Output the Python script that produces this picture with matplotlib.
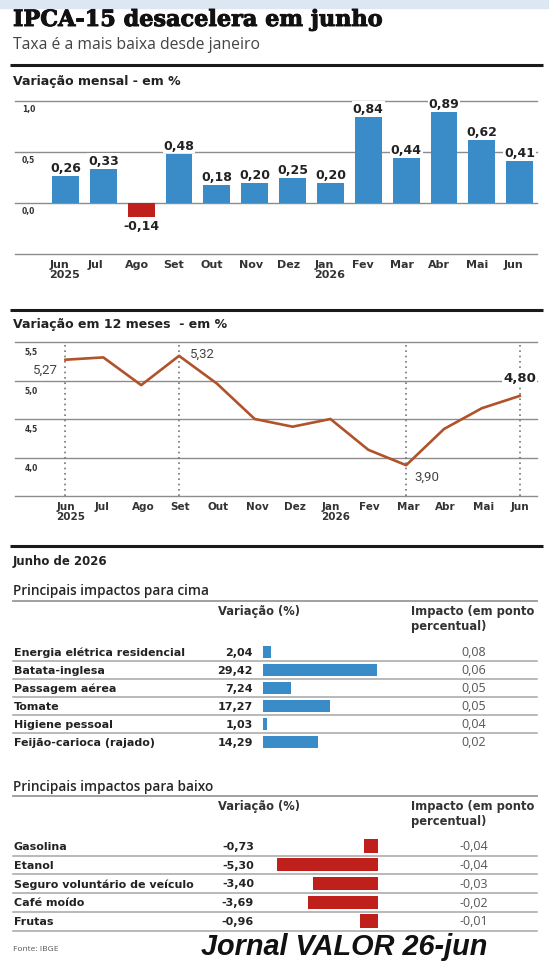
import numpy as np
import matplotlib.pyplot as plt
import matplotlib.transforms as mtransforms
import matplotlib.patheffects as pe

# dados
meses = ['Jun', 'Jul', 'Ago', 'Set', 'Out', 'Nov', 'Dez', 'Jan', 'Fev', 'Mar', 'Abr', 'Mai', 'Jun']
anos = ['2025', '', '', '', '', '', '', '2026', '', '', '', '', '']
var_mensal = [0.26, 0.33, -0.14, 0.48, 0.18, 0.20, 0.25, 0.20, 0.84, 0.44, 0.89, 0.62, 0.41]
var_12m = [5.27, 5.30, 4.94, 5.32, 4.96, 4.50, 4.40, 4.50, 4.10, 3.90, 4.37, 4.64, 4.80]
ticks_mensal = [1.0, 0.5, 0.0]
ticks_12m = [5.5, 5.0, 4.5, 4.0]

cima_itens = ['Energia elétrica residencial', 'Batata-inglesa', 'Passagem aérea', 'Tomate',
              'Higiene pessoal', 'Feijão-carioca (rajado)']
cima_var = [2.04, 29.42, 7.24, 17.27, 1.03, 14.29]
cima_imp = [0.08, 0.06, 0.05, 0.05, 0.04, 0.02]

baixo_itens = ['Gasolina', 'Etanol', 'Seguro voluntário de veículo', 'Café moído', 'Frutas']
baixo_var = [-0.73, -5.30, -3.40, -3.69, -0.96]
baixo_imp = [-0.04, -0.04, -0.03, -0.02, -0.01]

AZUL = '#3a8cc9'
VERMELHO = '#c0201c'
CINZA = '#8c8c8c'
ESCURO = '#222222'


def fmt(v, casas=2):
    return f'{v:.{casas}f}'.replace('.', ',')


W, H = 549, 962
fig = plt.figure(figsize=(W / 100, H / 100), dpi=100)
fig.patch.set_facecolor('white')


def px_axes(x0, y0, x1, y1):
    # eixo posicionado em pixels (origem no canto superior esquerdo)
    return fig.add_axes([x0 / W, 1 - y1 / H, (x1 - x0) / W, (y1 - y0) / H])


# camada de fundo para textos e fios
base = px_axes(0, 0, W, H)
base.set_xlim(0, W)
base.set_ylim(H, 0)
base.axis('off')

base.axhspan(0, 9, color='#dde7f3', zorder=0)
base.text(13, 21, 'IPCA-15 desacelera em junho', fontfamily='DejaVu Serif', fontweight='bold',
          fontsize=16.1, color='#111111', va='center', ha='left',
          path_effects=[pe.withStroke(linewidth=0.7, foreground='#111111')])
base.text(13, 45, 'Taxa é a mais baixa desde janeiro', fontfamily='Open Sans', fontsize=11.3,
          color='#444444', va='center', ha='left')

for y in [66, 311, 547]:
    base.plot([10, 543], [y, y], color='#1a1a1a', lw=2.2, solid_capstyle='butt')

base.text(13, 81, 'Variação mensal - em %', fontsize=9, fontweight='bold', color=ESCURO, va='center')
base.text(13, 325, 'Variação em 12 meses  - em %', fontsize=9, fontweight='bold', color=ESCURO, va='center')

# ---------------- barras: variacao mensal ----------------
x = np.arange(len(meses))
XMIN, XMAX = -1.334, 12.457

ax1 = px_axes(15, 102, 537, 255)
ax1.set_xlim(XMIN, XMAX)
ax1.set_ylim(-0.5, 1.0)
ax1.axis('off')
for v in [1.0, 0.5, 0.0, -0.5]:
    ax1.axhline(v, color=CINZA, lw=1.0, zorder=1, clip_on=False)
cores = [VERMELHO if v < 0 else AZUL for v in var_mensal]
ax1.bar(x, var_mensal, width=0.71, color=cores, zorder=2)
for xi, v in zip(x, var_mensal):
    ax1.annotate(fmt(v), (xi, v), xytext=(0, 2 if v >= 0 else -2), textcoords='offset pixels',
                 ha='center', va='bottom' if v >= 0 else 'top', fontsize=9, fontweight='bold',
                 color=ESCURO, bbox=dict(fc='white', ec='none', pad=0.6), zorder=3)
tr1 = mtransforms.blended_transform_factory(ax1.transAxes, ax1.transData)
for v in ticks_mensal:
    ax1.text(0.013, v - 0.03, fmt(v, 1), transform=tr1, fontsize=5.5, fontweight='bold',
             color='#333333', ha='left', va='top')
for xi, m, a in zip(x, meses, anos):
    rotulo = m if not a else m + '\n' + a
    ax1.text(xi - 0.42, -0.545, rotulo, ha='left', va='top', fontsize=8, fontweight='bold',
             color='#333333', linespacing=1.05)

# ---------------- linha: variacao em 12 meses ----------------
ax2 = px_axes(15, 343, 537, 497)
ax2.set_xlim(XMIN, XMAX)
ax2.set_ylim(3.5, 5.5)
ax2.axis('off')
for v in [5.5, 5.0, 4.5, 4.0, 3.5]:
    ax2.axhline(v, color=CINZA, lw=1.0, zorder=1, clip_on=False)
for i in [0, 3, 9, 12]:
    ax2.axvline(i, color='#777777', lw=1.2, ls=(0, (1, 2.2)), zorder=1)
ax2.plot(x, var_12m, color='#b0522a', lw=1.9, zorder=3)
tr2 = mtransforms.blended_transform_factory(ax2.transAxes, ax2.transData)
for v in ticks_12m:
    ax2.text(0.019, v - 0.065, fmt(v, 1), transform=tr2, fontsize=5.5, fontweight='bold',
             color='#333333', ha='left', va='top')
for xi, m, a in zip(x, meses, anos):
    rotulo = m if not a else m + '\n' + a
    ax2.text(xi - 0.24, 3.44, rotulo, ha='left', va='top', fontsize=7.5, fontweight='bold',
             color='#333333', linespacing=1.05)

anot = dict(fontfamily='Roboto', fontsize=9.5, color='#444444', textcoords='offset pixels', va='center')
ax2.annotate(fmt(var_12m[0]), (0, var_12m[0]), xytext=(-8, -10), ha='right', **anot)
ax2.annotate(fmt(var_12m[3]), (3, var_12m[3]), xytext=(11, 3), ha='left', **anot)
ax2.annotate(fmt(var_12m[9]), (9, var_12m[9]), xytext=(8, -11), ha='left', **anot)
ax2.annotate(fmt(var_12m[12]), (12, var_12m[12]), xytext=(0, 18), textcoords='offset pixels',
             ha='center', va='center', fontsize=9.5, fontweight='bold', color=ESCURO,
             bbox=dict(fc='white', ec='none', pad=0.8), zorder=4)

# ---------------- tabelas ----------------
base.text(13, 562, 'Junho de 2026', fontsize=8.5, fontweight='bold', color=ESCURO, va='center')


def cabecalho(y_tit, y_fio, y_cab, titulo):
    base.text(13, y_tit, titulo, fontfamily='Open Sans', fontweight='semibold', fontsize=9.8,
              color='#262626', va='center')
    base.plot([13, 537], [y_fio, y_fio], color='#999999', lw=1.3)
    base.text(218, y_cab, 'Variação (%)', fontsize=8.3, fontweight='bold', color='#333333', va='center')
    base.text(411, y_cab, 'Impacto (em ponto', fontsize=8.3, fontweight='bold', color='#333333', va='center')
    base.text(411, y_cab + 15, 'percentual)', fontsize=8.3, fontweight='bold', color='#333333', va='center')


cabecalho(591, 602, 612, 'Principais impactos para cima')
y0, passo = 653, 18
for k, (nome, v, imp) in enumerate(zip(cima_itens, cima_var, cima_imp)):
    y = y0 + passo * k
    base.text(14, y, nome, fontsize=8, fontweight='bold', color=ESCURO, va='center')
    base.text(253, y, fmt(v), fontsize=8, fontweight='bold', color=ESCURO, va='center', ha='right')
    base.text(474, y, fmt(imp), fontfamily='Open Sans', fontsize=9, color='#555555', va='center', ha='center')
    if k < len(cima_itens) - 1:
        base.plot([13, 537], [y + 9, y + 9], color='#a5a5a5', lw=1.1)

ax3 = px_axes(263, 644, 380, 752)
ax3.set_xlim(0, 117 / 3.87)
ax3.set_ylim(len(cima_var) - 0.5, -0.5)
ax3.axis('off')
ax3.barh(np.arange(len(cima_var)), cima_var, height=0.72, color=AZUL)

cabecalho(787, 797, 807, 'Principais impactos para baixo')
y0, passo = 847, 18.75
for k, (nome, v, imp) in enumerate(zip(baixo_itens, baixo_var, baixo_imp)):
    y = y0 + passo * k
    base.text(14, y, nome, fontsize=8, fontweight='bold', color=ESCURO, va='center')
    base.text(254, y, fmt(v), fontsize=8, fontweight='bold', color=ESCURO, va='center', ha='right')
    base.text(474, y, fmt(imp), fontfamily='Open Sans', fontsize=9, color='#555555', va='center', ha='center')
    base.plot([13, 537], [y + 9.5, y + 9.5], color='#a5a5a5', lw=1.1)

ax4 = px_axes(263, 837.6, 378, 931.4)
ax4.set_xlim(-115 / 19.1, 0)
ax4.set_ylim(len(baixo_var) - 0.5, -0.5)
ax4.axis('off')
ax4.barh(np.arange(len(baixo_var)), baixo_var, height=0.7, color=VERMELHO)

base.text(13, 950, 'Fonte: IBGE', fontfamily='Open Sans', fontsize=6, color='#555555', va='center')
base.text(201, 947, 'Jornal VALOR 26-jun', fontfamily='Liberation Sans', fontweight='bold',
          fontstyle='italic', fontsize=20.8, color='#111111', va='center', ha='left')

fig.savefig('out.png', dpi=100)
